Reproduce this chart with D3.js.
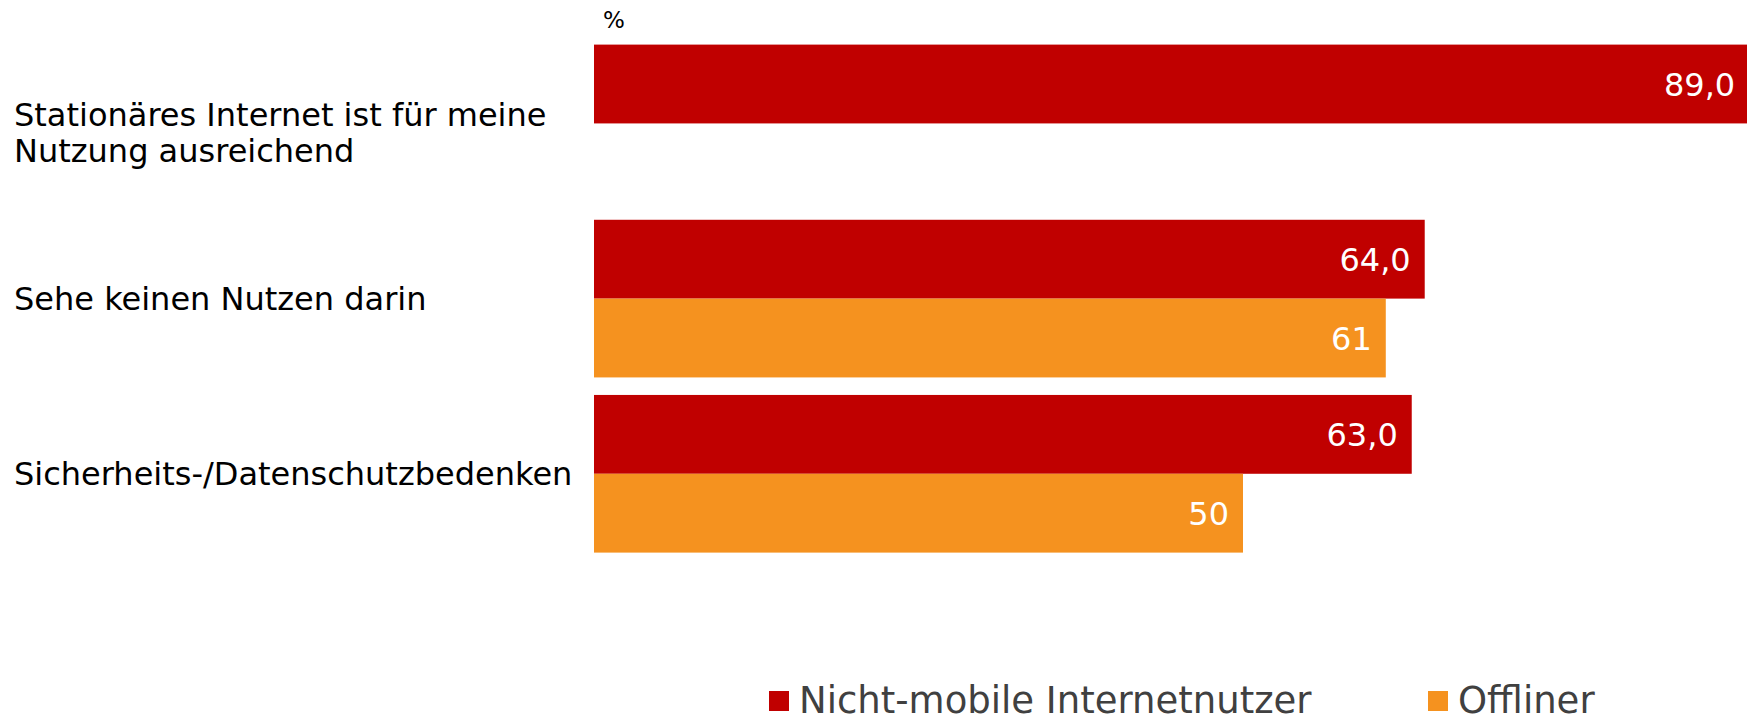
<!DOCTYPE html>
<html>
<head>
<meta charset="utf-8">
<script src="https://d3js.org/d3.v7.min.js"></script>
<style>
  body { margin: 0; background: #fff; }
  text { font-family: "DejaVu Sans", Verdana, sans-serif; }
</style>
</head>
<body>
<div id="chart-area"></div>
<script>
var categories = [
    ["Stationäres Internet ist für meine", "Nutzung ausreichend"],
    ["Sehe keinen Nutzen darin"],
    ["Sicherheits-/Datenschutzbedenken"]
];
var seriesNames = ["Nicht-mobile Internetnutzer", "Offliner"];
var nichtMobile = [89.0, 64.0, 63.0];
var offliner = [null, 61, 50];
var colors = ["#C00000", "#F5921F"];
var unitLabel = "%";

var width = 1747;
var height = 723;

var svg = d3.select("#chart-area").append("svg")
    .attr("width", width)
    .attr("height", height);

var de = d3.formatLocale({decimal: ",", thousands: ".", grouping: [3], currency: ["", " €"]});
var fmt = [de.format(".1f"), de.format(".0f")];

var keys = categories.map((c, i) => i);

var y = d3.scaleBand()
    .domain(keys)
    .range([44.6, 552.6])
    .paddingInner(0.1)
    .paddingOuter(0);

var ySub = d3.scaleBand()
    .domain([0, 1])
    .range([0, y.bandwidth()]);

var x = d3.scaleLinear()
    .domain([0, 100])
    .range([594, 1892]);

var data = [];
keys.forEach(i => {
    [nichtMobile[i], offliner[i]].forEach((v, s) => {
        if (v != null) data.push({cat: i, s: s, value: v});
    });
});

var g = svg.append("g");

g.selectAll("rect.bar").data(data).enter()
    .append("rect")
        .attr("class", "bar")
        .attr("x", x(0))
        .attr("y", d => y(d.cat) + ySub(d.s))
        .attr("width", d => x(d.value) - x(0))
        .attr("height", ySub.bandwidth())
        .attr("fill", d => colors[d.s]);

g.selectAll("text.val").data(data).enter()
    .append("text")
        .attr("class", "val")
        .attr("x", d => x(d.value) - 14)
        .attr("y", d => y(d.cat) + ySub(d.s) + ySub.bandwidth() / 2)
        .attr("dy", "0.36em")
        .attr("text-anchor", "end")
        .attr("font-size", "32px")
        .attr("fill", "#fff")
        .text(d => fmt[d.s](d.value));

// category labels on the left
var lab = g.selectAll("text.cat").data(keys).enter()
    .append("text")
        .attr("class", "cat")
        .attr("x", 14)
        .attr("y", d => y(d) + y.bandwidth() / 2 + (categories[d].length > 1 ? 9 : 0))
        .attr("font-size", "32px")
        .attr("fill", "#000");
lab.each(function(d) {
    var lines = categories[d];
    var t = d3.select(this);
    lines.forEach((line, k) => {
        t.append("tspan")
            .attr("x", 14)
            .attr("dy", k === 0 ? (0.36 - (lines.length - 1) * 0.56) + "em" : "1.12em")
            .text(line);
    });
});

svg.append("text")
    .attr("x", 603)
    .attr("y", 20)
    .attr("dy", "0.36em")
    .attr("font-size", "23px")
    .attr("fill", "#000")
    .text(unitLabel);

// legend
var legendX = [769, 1428];
var legend = svg.selectAll("g.legend").data(seriesNames).enter()
    .append("g")
        .attr("class", "legend")
        .attr("transform", (d, i) => "translate(" + legendX[i] + "," + 700 + ")");
legend.append("rect")
    .attr("x", 0)
    .attr("y", -9)
    .attr("width", 20)
    .attr("height", 20)
    .attr("fill", (d, i) => colors[i]);
legend.append("text")
    .attr("x", 30)
    .attr("y", 0)
    .attr("dy", "0.36em")
    .attr("font-size", "37px")
    .attr("fill", "#404040")
    .text(d => d);
</script>
</body>
</html>
